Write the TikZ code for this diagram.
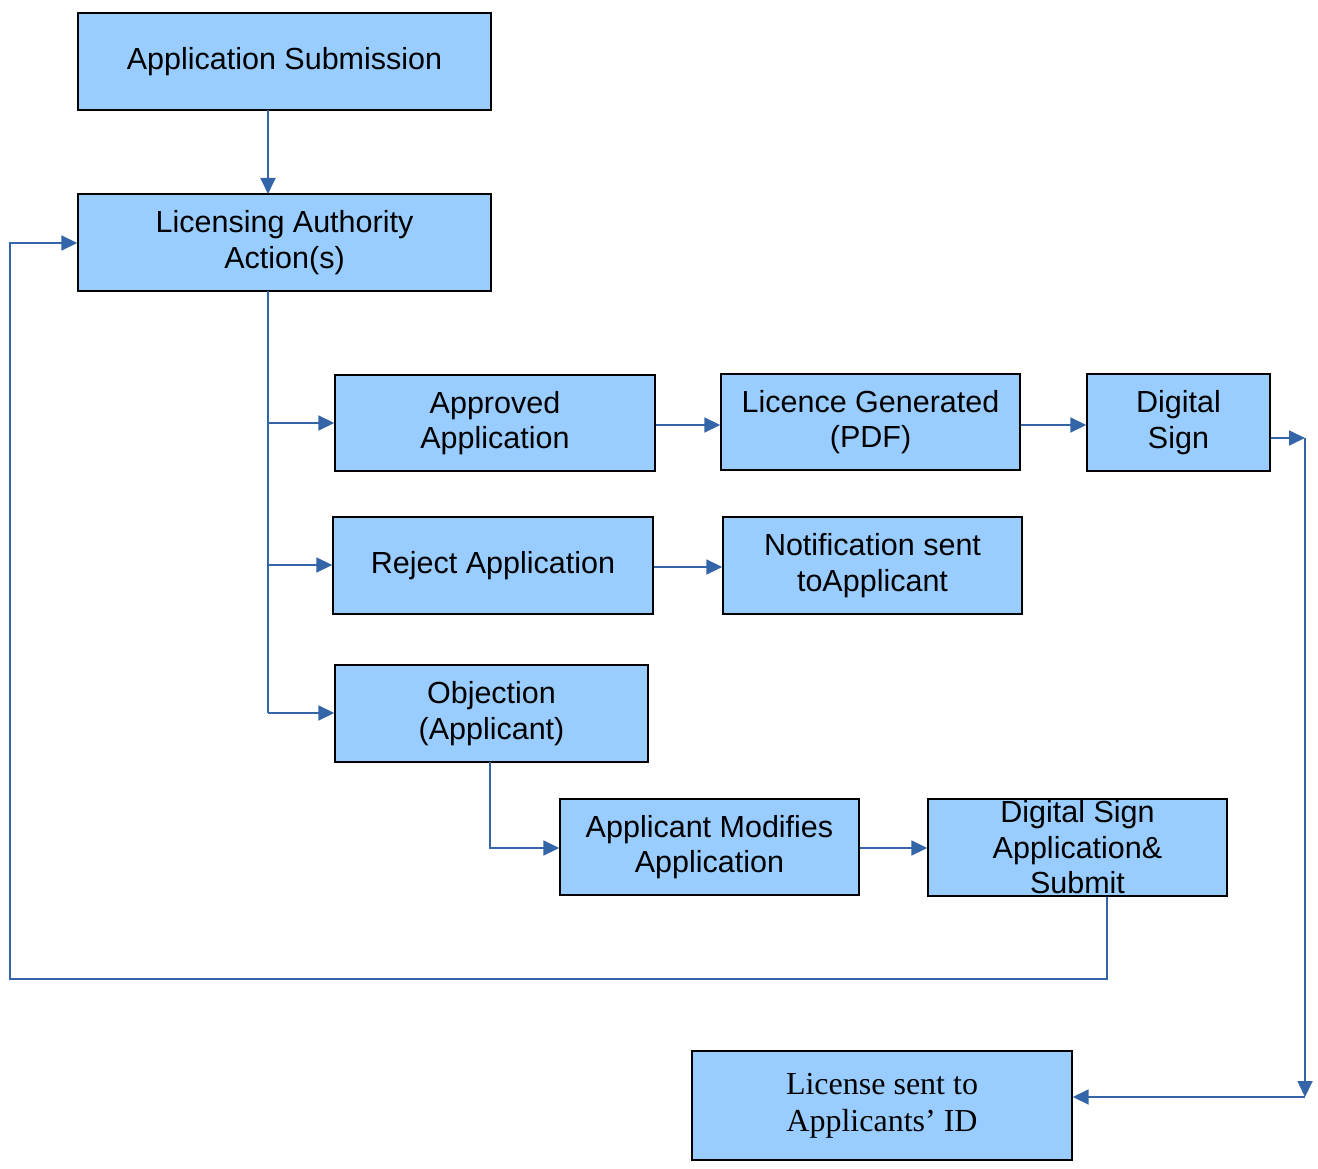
\documentclass[tikz,border=0pt]{standalone}
\usepackage{fontspec}
\setmainfont{Liberation Sans}
\newfontfamily\timesfont{Liberation Serif}
\usetikzlibrary{arrows.meta}

\definecolor{boxblue}{HTML}{99CCFF}
\definecolor{lineblue}{HTML}{3465A8}

\tikzset{
  box/.style={draw=black, line width=1.4pt, fill=boxblue, inner sep=0pt,
    align=center, font=\fontsize{30.5}{35.5}\selectfont},
  flow/.style={draw=lineblue, line width=1.8pt, -{Triangle[length=16pt,width=15pt]}},
  wire/.style={draw=lineblue, line width=1.8pt}
}

\begin{document}
\begin{tikzpicture}[x=1pt, y=-1pt]
    \useasboundingbox (0,0) rectangle (1318,1169);

    % Boxes
    \node[box, minimum width=413pt, minimum height=97pt] (sub) at (284.5,61.5) {Application Submission};
    \node[box, minimum width=413pt, minimum height=97pt] (auth) at (284.5,242.5) {Licensing Authority\\Action(s)};
    \node[box, minimum width=320pt, minimum height=96pt] (appr) at (495,423) {Approved\\Application};
    \node[box, minimum width=299pt, minimum height=96pt] (pdf) at (870.5,422) {Licence Generated\\(PDF)};
    \node[box, minimum width=183pt, minimum height=97pt] (dsign) at (1178.5,422.5) {Digital\\Sign};
    \node[box, minimum width=320pt, minimum height=97pt] (rej) at (493,565.5) {Reject Application};
    \node[box, minimum width=299pt, minimum height=97pt] (note) at (872.5,565.5) {Notification sent\\toApplicant};
    \node[box, minimum width=313pt, minimum height=97pt] (obj) at (491.5,713.5) {Objection\\(Applicant)};
    \node[box, minimum width=299pt, minimum height=96pt] (mod) at (709.5,847) {Applicant Modifies\\Application};
    \node[box, minimum width=299pt, minimum height=97pt] (resub) at (1077.5,847.5) {Digital Sign\\Application\&\\Submit};
    \node[box, minimum width=380pt, minimum height=109pt, font=\timesfont\fontsize{32}{37}\selectfont] (send) at (882,1105.5) {License sent to\\Applicants’ ID};

    % Corner points
    \coordinate (trunk) at (268,713);
    \coordinate (back1) at (1107,979);
    \coordinate (back2) at (10,979);
    \coordinate (back3) at (10,243);
    \coordinate (turn1) at (1305,438);
    \coordinate (turn2) at (1305,1097);

    % Main line
    \draw[flow] (268,110) -- (268,194);
    \draw[wire] (268,291) -- (trunk);
    \draw[flow] (268,423) -- (appr.west |- 0,423);
    \draw[flow] (268,565) -- (rej.west |- 0,565);
    \draw[flow] (trunk) -- (obj.west |- trunk);

    % Approved branch
    \draw[flow] (appr.east |- 0,425) -- (pdf.west |- 0,425);
    \draw[flow] (pdf.east |- 0,425) -- (dsign.west |- 0,425);
    \draw[flow] (dsign.east |- turn1) -- (turn1);
    \draw[flow] (turn1) -- (turn2);
    \draw[flow] (turn2) -- (send.east |- turn2);

    % Reject branch
    \draw[flow] (rej.east |- 0,567) -- (note.west |- 0,567);

    % Objection branch
    \draw[flow] (490,762) |- (mod.west |- 0,848);
    \draw[flow] (mod.east |- 0,848) -- (resub.west |- 0,848);
    \draw[flow] (resub.south -| back1) -- (back1) -- (back2) -- (back3) -- (auth.west |- back3);
\end{tikzpicture}
\end{document}
